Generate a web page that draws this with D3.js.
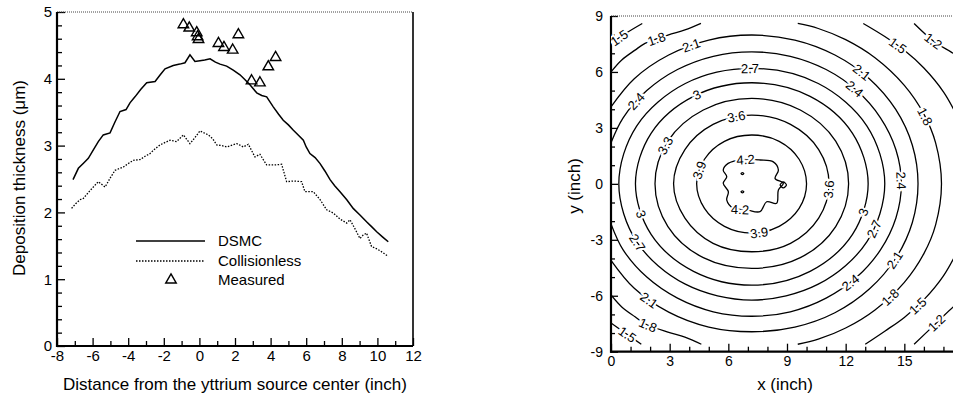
<!DOCTYPE html>
<html>
<head>
<meta charset="utf-8">
<script src="https://cdn.jsdelivr.net/npm/d3@7"></script>
<style>
  body { margin: 0; background: #fff; }
  text { font-family: "Liberation Sans", Arial, sans-serif; }
</style>
</head>
<body>
<svg id="chart" width="953" height="400"></svg>
<script>
// ---- left panel: thickness profile ----
const dsmc = [
  [-7.1, 2.49], [-6.8, 2.66], [-6.5, 2.74], [-6.24, 2.81], [-5.95, 2.94], [-5.68, 3.06],
  [-5.4, 3.16], [-5.02, 3.19], [-4.75, 3.35], [-4.46, 3.51], [-4.12, 3.54], [-3.9, 3.64],
  [-3.62, 3.73], [-3.3, 3.84], [-2.96, 3.94], [-2.49, 3.96], [-2.2, 4.06], [-1.93, 4.15],
  [-1.47, 4.2], [-1.1, 4.22], [-0.81, 4.24], [-0.53, 4.36], [-0.25, 4.26], [0.03, 4.27],
  [0.3, 4.28], [0.6, 4.3], [0.9, 4.25], [1.16, 4.22], [1.53, 4.19], [1.9, 4.13],
  [2.28, 4.06], [2.55, 3.99], [2.84, 3.91], [3.22, 3.79], [3.5, 3.75], [3.78, 3.73],
  [4.15, 3.58], [4.45, 3.47], [4.71, 3.38], [5.0, 3.31], [5.28, 3.23], [5.55, 3.16],
  [5.84, 3.08], [6.0, 2.98], [6.21, 2.88], [6.5, 2.82], [6.78, 2.73], [7.05, 2.62],
  [7.34, 2.49], [7.6, 2.4], [7.9, 2.31], [8.28, 2.19], [8.64, 2.06], [9.02, 1.96],
  [9.39, 1.86], [9.7, 1.78], [9.96, 1.71], [10.3, 1.63], [10.61, 1.56]
];
const collisionless = [
  [-7.18, 2.06], [-6.95, 2.13], [-6.7, 2.19], [-6.52, 2.21], [-6.1, 2.34], [-5.68, 2.46],
  [-5.3, 2.38], [-5.0, 2.52], [-4.74, 2.63], [-4.27, 2.68], [-3.95, 2.74], [-3.71, 2.78],
  [-3.34, 2.79], [-3.05, 2.84], [-2.78, 2.88], [-2.5, 2.95], [-2.21, 3.01], [-1.9, 3.05],
  [-1.65, 3.08], [-1.28, 3.06], [-0.9, 3.16], [-0.53, 3.03], [-0.25, 3.12], [0.03, 3.22],
  [0.5, 3.16], [0.75, 3.1], [0.97, 3.01], [1.25, 3.0], [1.53, 2.98], [2.1, 3.03],
  [2.47, 2.98], [2.75, 3.02], [3.12, 2.83], [3.4, 2.87], [3.78, 2.71], [4.2, 2.71],
  [4.62, 2.72], [4.9, 2.46], [5.3, 2.47], [5.74, 2.46], [5.93, 2.31], [6.4, 2.31],
  [6.78, 2.19], [7.15, 2.04], [7.52, 1.99], [7.9, 1.9], [8.28, 1.84], [8.46, 1.89],
  [8.75, 1.75], [9.02, 1.61], [9.2, 1.66], [9.39, 1.69], [9.67, 1.49], [10.0, 1.45],
  [10.3, 1.4], [10.61, 1.34]
];
const measured = [
  [-0.9, 4.81], [-0.57, 4.76], [-0.15, 4.69], [-0.1, 4.63], [-0.05, 4.59],
  [1.07, 4.53], [1.38, 4.47], [1.87, 4.43], [2.19, 4.66], [2.93, 3.97],
  [3.4, 3.94], [3.87, 4.18], [4.28, 4.32]
];
const leftXTicks = [-8, -6, -4, -2, 0, 2, 4, 6, 8, 10, 12];
const leftYTicks = [0, 1, 2, 3, 4, 5];
const legendNames = ['DSMC', 'Collisionless', 'Measured'];

// ---- right panel: contour lines (x, y in inch) ----
const contourPieces = [
  { level: 4.5, closed: true, pts: [[6.72, 0.6], [6.79, 0.55], [6.72, 0.5], [6.65, 0.55]] },
  { level: 4.5, closed: true, pts: [[6.72, -0.38], [6.79, -0.43], [6.72, -0.48], [6.65, -0.43]] },
  { level: 4.5, closed: true, pts: [[8.97, -0.06], [8.81, 0.1], [8.65, -0.06], [8.81, -0.22]] },
  { level: 4.2, closed: true, pts: [[5.74, 0.74], [5.99, 1.1], [6.8, 1.3], [7.62, 1.28], [8.3, 1.18], [8.56, 0.74],
      [8.39, 0.29], [8.81, 0.03], [8.56, -0.33], [8.47, -1.04], [7.96, -0.96], [7.62, -1.49],
      [6.9, -1.38], [6.26, -1.31], [5.92, -0.87], [6.0, -0.42], [5.74, 0.03], [5.92, 0.38]] },
  { level: 3.9, closed: true, pts: [[10.0, 0], [9.62, 1.32], [8.6, 2.28], [7.2, 2.62], [5.8, 2.28], [4.78, 1.32],
      [4.38, 0], [4.78, -1.32], [5.8, -2.28], [7.2, -2.64], [8.6, -2.28], [9.62, -1.32]] },
  { level: 3.6, closed: true, pts: [[11.15, 0], [10.62, 1.84], [9.18, 3.19], [7.2, 3.69], [5.22, 3.19], [3.78, 1.84],
      [3.2, 0], [3.78, -1.84], [5.22, -3.19], [7.2, -3.64], [9.18, -3.19], [10.62, -1.84]] },
  { level: 3.3, closed: true, pts: [[12.15, 0], [11.49, 2.29], [9.68, 3.96], [7.2, 4.58], [4.72, 3.96], [2.91, 2.29],
      [2.25, 0], [2.91, -2.29], [4.72, -3.96], [7.2, -4.53], [9.68, -3.96], [11.49, -2.29]] },
  { level: 3.0, closed: true, pts: [[13.15, 0], [12.35, 2.71], [10.18, 4.69], [7.2, 5.42], [4.22, 4.69], [2.05, 2.71],
      [1.25, 0], [2.05, -2.71], [4.22, -4.69], [7.2, -5.43], [10.18, -4.69], [12.35, -2.71]] },
  { level: 2.7, closed: true, pts: [[14.0, 0], [13.09, 3.1], [10.6, 5.38], [7.2, 6.19], [3.8, 5.38], [1.31, 3.1],
      [0.4, 0], [1.31, -3.1], [3.8, -5.38], [7.2, -6.23], [10.6, -5.38], [13.09, -3.1]] },
  { level: 2.4, closed: false, pts: [[0, 2.2], [0.62, 3.54], [1.83, 5.0], [3.4, 6.13], [5.23, 6.84], [7.2, 7.08],
      [9.17, 6.84], [11.0, 6.13], [12.57, 5.0], [13.78, 3.54], [14.57, 1.83], [14.85, 0], [14.57, -1.83],
      [13.78, -3.54], [12.57, -5.0], [11.0, -6.13], [9.17, -6.86], [7.2, -7.1], [5.23, -6.86],
      [3.4, -6.13], [1.83, -5.0], [0.62, -3.54], [0, -2.15]] },
  { level: 2.1, closed: false, pts: [[0, 4.13], [1.19, 5.64], [2.95, 6.91], [5.0, 7.71], [7.2, 7.98], [9.4, 7.71],
      [11.45, 6.91], [13.21, 5.64], [14.56, 3.99], [15.41, 2.07], [15.7, 0], [15.41, -2.07],
      [14.56, -3.99], [13.21, -5.64], [11.45, -6.91], [9.4, -7.68], [7.2, -7.93], [5.0, -7.68],
      [2.95, -6.88], [1.19, -5.6], [0, -4.1]] },
  { level: 1.8, closed: false, pts: [[0, 6.0], [0.55, 6.64], [1.23, 7.17], [1.74, 7.53], [2.91, 7.98], [3.78, 8.25], [4.6, 8.6]] },
  { level: 1.8, closed: false, pts: [[0, -5.96], [0.55, -6.6], [1.23, -7.13], [1.74, -7.5], [2.91, -7.95], [3.78, -8.22], [4.62, -8.6]] },
  { level: 1.8, closed: false, pts: [[9.55, 8.6], [10.6, 8.33], [12.0, 7.73], [13.5, 6.76], [15.0, 5.28], [16.0, 3.74],
      [16.6, 2.2], [16.9, 0], [16.6, -2.2], [16.0, -3.74], [15.0, -5.28], [13.5, -6.76], [12.0, -7.73],
      [10.6, -8.33], [9.55, -8.6]] },
  { level: 1.5, closed: false, pts: [[0, 7.53], [0.8, 8.1], [1.6, 8.6]] },
  { level: 1.5, closed: false, pts: [[0, -7.46], [0.8, -8.05], [1.55, -8.6]] },
  { level: 1.5, closed: false, pts: [[12.9, 8.6], [14.0, 7.9], [15.0, 7.16], [16.0, 6.21], [17.0, 4.93], [17.8, 3.43]] },
  { level: 1.5, closed: false, pts: [[13.0, -8.6], [14.0, -7.9], [15.0, -7.16], [16.0, -6.21], [17.0, -4.93], [17.8, -3.43]] },
  { level: 1.2, closed: false, pts: [[15.5, 8.6], [16.5, 7.65], [17.5, 7.0], [17.9, 6.7]] },
  { level: 1.2, closed: false, pts: [[15.5, -8.6], [16.6, -7.5], [17.5, -6.6], [17.9, -6.3]] }
];
// [level, x, y] of each in-line label
const contourLabels = [
  [4.2, 6.9, 1.25], [4.2, 6.6, -1.2],
  [3.9, 4.3, 0.8], [3.9, 7.6, -2.64],
  [3.6, 6.4, 3.65], [3.6, 11.15, -0.3],
  [3.3, 2.5, 2.2],
  [3.0, 4.38, 4.76], [3.0, 1.6, -1.6], [3.0, 12.9, -1.5],
  [2.7, 7.1, 6.2], [2.7, 1.31, -3.17], [2.7, 13.6, -2.48],
  [2.4, 1.31, 4.4], [2.4, 12.47, 5.12], [2.4, 14.85, 0.2], [2.4, 12.3, -5.35],
  [2.1, 4.04, 7.6], [2.1, 12.83, 6.0], [2.1, 14.55, -4.1], [2.1, 1.9, -6.3],
  [1.8, 2.34, 7.71], [1.8, 1.9, -7.57], [1.8, 16.05, 3.6], [1.8, 14.3, -6.1],
  [1.5, 0.46, 7.8], [1.5, 0.8, -8.1], [1.5, 14.67, 7.4], [1.5, 15.7, -6.55],
  [1.2, 16.46, 7.6], [1.2, 16.65, -7.48]
];
const rightXTicks = [0, 3, 6, 9, 12, 15];
const rightYTicks = [-9, -6, -3, 0, 3, 6, 9];

const svg = d3.select('#chart');
const fmt = d => String(d);

// ================= left panel =================
const x1 = d3.scaleLinear().domain([-8, 12]).range([57, 413]);
const y1 = d3.scaleLinear().domain([0, 5]).range([346, 12]);
const left = svg.append('g');

const minorX1 = d3.range(-7, 12, 2);
const minorY1 = d3.range(0, 5.01, 0.2).filter(v => Math.abs(v - Math.round(v)) > 0.01);

left.append('g').attr('transform', `translate(0,${y1(0)})`)
  .call(d3.axisBottom(x1).tickValues(minorX1).tickSize(-5).tickFormat(''))
  .call(g => g.select('.domain').remove());
left.append('g').attr('transform', `translate(0,${y1(0)})`)
  .call(d3.axisBottom(x1).tickValues(leftXTicks).tickSize(-8).tickPadding(4).tickFormat(fmt))
  .call(g => g.select('.domain').remove())
  .attr('font-size', 15).attr('font-family', null);
left.append('g').attr('transform', `translate(${x1(-8)},0)`)
  .call(d3.axisLeft(y1).tickValues(minorY1).tickSize(-5).tickFormat(''))
  .call(g => g.select('.domain').remove());
left.append('g').attr('transform', `translate(${x1(-8)},0)`)
  .call(d3.axisLeft(y1).tickValues(leftYTicks).tickSize(-8).tickPadding(5).tickFormat(fmt))
  .call(g => g.select('.domain').remove())
  .attr('font-size', 15).attr('font-family', null);
left.selectAll('.tick line').attr('stroke-width', 1.3);

// frame
left.append('line').attr('x1', x1(-8)).attr('x2', x1(12)).attr('y1', y1(5)).attr('y2', y1(5))
  .attr('stroke', '#444').attr('stroke-width', 1).attr('stroke-dasharray', '1,1');
left.append('line').attr('x1', x1(12)).attr('x2', x1(12)).attr('y1', y1(5)).attr('y2', y1(0))
  .attr('stroke', '#000').attr('stroke-width', 1.6);
left.append('line').attr('x1', x1(-8)).attr('x2', x1(-8)).attr('y1', y1(5)).attr('y2', y1(0) + 1)
  .attr('stroke', '#000').attr('stroke-width', 2.2);
left.append('line').attr('x1', x1(-8) - 1).attr('x2', x1(12)).attr('y1', y1(0)).attr('y2', y1(0))
  .attr('stroke', '#000').attr('stroke-width', 2.2);

const line1 = d3.line().x(d => x1(d[0])).y(d => y1(d[1]));
left.append('path').datum(dsmc).attr('d', line1)
  .attr('fill', 'none').attr('stroke', '#000').attr('stroke-width', 1.5);
left.append('path').datum(collisionless).attr('d', line1)
  .attr('fill', 'none').attr('stroke', '#000').attr('stroke-width', 1.3).attr('stroke-dasharray', '1.5,1.5');

const tri = d3.symbol(d3.symbolTriangle, 48);
left.selectAll('path.meas').data(measured).join('path').attr('class', 'meas')
  .attr('transform', d => `translate(${x1(d[0])},${y1(d[1])})`)
  .attr('d', tri).attr('fill', 'none').attr('stroke', '#000').attr('stroke-width', 1.4);

// legend
const leg = left.append('g');
const legY = [241, 261, 280];
leg.append('line').attr('x1', 136).attr('x2', 205).attr('y1', legY[0]).attr('y2', legY[0])
  .attr('stroke', '#000').attr('stroke-width', 1.5);
leg.append('line').attr('x1', 136).attr('x2', 205).attr('y1', legY[1]).attr('y2', legY[1])
  .attr('stroke', '#000').attr('stroke-width', 1.3).attr('stroke-dasharray', '1.5,1.5');
leg.append('path').attr('transform', `translate(171,${legY[2]})`).attr('d', tri)
  .attr('fill', 'none').attr('stroke', '#000').attr('stroke-width', 1.4);
leg.selectAll('text').data(legendNames).join('text')
  .attr('x', 218).attr('y', (d, i) => legY[i]).attr('dy', '0.36em')
  .attr('font-size', 15).text(d => d);

left.append('text').attr('transform', 'translate(19,178) rotate(-90)')
  .attr('text-anchor', 'middle').attr('dy', '0.36em').attr('font-size', 17)
  .text('Deposition thickness (\u03bcm)');
left.append('text').attr('x', 235).attr('y', 390).attr('text-anchor', 'middle')
  .attr('font-size', 17).text('Distance from the yttrium source center (inch)');

// ================= right panel =================
const x2 = d3.scaleLinear().domain([0, 18]).range([611, 963]);
const y2 = d3.scaleLinear().domain([-9, 9]).range([351.7, 16]);
const right = svg.append('g');

const minorX2 = d3.range(0, 19).filter(v => v % 3 !== 0);
const minorY2 = d3.range(-9, 10).filter(v => v % 3 !== 0);

right.append('g').attr('transform', `translate(0,${y2(-9)})`)
  .call(d3.axisBottom(x2).tickValues(minorX2).tickSize(-5).tickFormat(''))
  .call(g => g.select('.domain').remove());
right.append('g').attr('transform', `translate(0,${y2(-9)})`)
  .call(d3.axisBottom(x2).tickValues(rightXTicks).tickSize(-8).tickPadding(4).tickFormat(fmt))
  .call(g => g.select('.domain').remove())
  .attr('font-size', 14).attr('font-family', null);
right.append('g').attr('transform', `translate(${x2(0)},0)`)
  .call(d3.axisLeft(y2).tickValues(minorY2).tickSize(-4).tickFormat(''))
  .call(g => g.select('.domain').remove());
right.append('g').attr('transform', `translate(${x2(0)},0)`)
  .call(d3.axisLeft(y2).tickValues(rightYTicks).tickSize(-7).tickPadding(8).tickFormat(fmt))
  .call(g => g.select('.domain').remove())
  .attr('font-size', 14).attr('font-family', null);
right.selectAll('.tick line').attr('stroke-width', 1.3);

right.append('line').attr('x1', x2(0)).attr('x2', x2(18)).attr('y1', y2(9)).attr('y2', y2(9))
  .attr('stroke', '#444').attr('stroke-width', 1).attr('stroke-dasharray', '1,1');
right.append('line').attr('x1', x2(0)).attr('x2', x2(0)).attr('y1', y2(9)).attr('y2', y2(-9) + 1)
  .attr('stroke', '#000').attr('stroke-width', 2.2);
right.append('line').attr('x1', x2(0) - 1).attr('x2', x2(18)).attr('y1', y2(-9)).attr('y2', y2(-9))
  .attr('stroke', '#000').attr('stroke-width', 2.2);

svg.append('clipPath').attr('id', 'map-clip').append('rect')
  .attr('x', x2(0)).attr('y', y2(9)).attr('width', x2(18) - x2(0)).attr('height', y2(-9) - y2(9));

const contourG = right.append('g').attr('clip-path', 'url(#map-clip)');
const openLine = d3.line().x(d => x2(d[0])).y(d => y2(d[1])).curve(d3.curveCatmullRom);
const closedLine = d3.line().x(d => x2(d[0])).y(d => y2(d[1])).curve(d3.curveCatmullRomClosed);

contourG.selectAll('path').data(contourPieces).join('path')
  .attr('d', d => (d.closed ? closedLine : openLine)(d.pts))
  .attr('fill', 'none').attr('stroke', '#000').attr('stroke-width', 1.3);

// in-line labels, turned along the line they sit on
const labelG = right.append('g').attr('clip-path', 'url(#map-clip)');
contourLabels.forEach(([lv, lx, ly]) => {
  const px = x2(lx), py = y2(ly);
  let best = null;
  contourG.selectAll('path').filter(d => d.level === lv).each(function () {
    const len = this.getTotalLength();
    for (let s = 0; s <= len; s += 1) {
      const p = this.getPointAtLength(s);
      const dd = (p.x - px) ** 2 + (p.y - py) ** 2;
      if (!best || dd < best.dd) best = { dd, s, len, node: this, p };
    }
  });
  if (!best) return;
  const a = best.node.getPointAtLength(Math.max(0, best.s - 4));
  const b = best.node.getPointAtLength(Math.min(best.len, best.s + 4));
  let ang = Math.atan2(b.y - a.y, b.x - a.x) * 180 / Math.PI;
  if (ang > 90) ang -= 180;
  if (ang < -90) ang += 180;
  labelG.append('text')
    .attr('transform', `translate(${best.p.x},${best.p.y}) rotate(${ang})`)
    .attr('text-anchor', 'middle').attr('dy', '0.36em').attr('font-size', 13)
    .attr('stroke', '#fff').attr('stroke-width', 4).attr('paint-order', 'stroke')
    .attr('fill', '#000')
    .text(lv === 3 ? '3' : lv.toFixed(1));
});

right.append('text').attr('transform', 'translate(574,186) rotate(-90)')
  .attr('text-anchor', 'middle').attr('dy', '0.36em').attr('font-size', 17).text('y (inch)');
right.append('text').attr('x', 785).attr('y', 390).attr('text-anchor', 'middle')
  .attr('font-size', 17).text('x (inch)');
</script>
</body>
</html>
